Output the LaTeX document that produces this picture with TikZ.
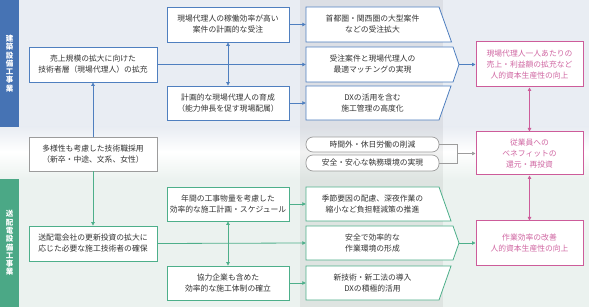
\documentclass[tikz,border=0pt]{standalone}
\usepackage{fontspec}
\setmainfont{Noto Sans CJK JP}
\usepackage{xcolor}
\usepackage{tikz}
\usetikzlibrary{positioning, arrows.meta, calc}
\definecolor{kenblue}{HTML}{4F7FBF}
\definecolor{bandblue}{HTML}{4673B4}
\definecolor{haigreen}{HTML}{4DAF8A}
\definecolor{bandgreen}{HTML}{4BA886}
\definecolor{jinpink}{HTML}{CD5C9A}
\definecolor{pinktext}{HTML}{D066A2}
\definecolor{linegray}{HTML}{9C9C9C}
\definecolor{textgray}{HTML}{333333}
\definecolor{bgblue}{HTML}{E9EDF3}
\definecolor{bggreen}{HTML}{EBF2EF}

\tikzset{
  txt/.style={font=\fontsize{7.8}{11}\selectfont, text=textgray, align=center, inner sep=0pt},
  box/.style={txt, draw, fill=white, line width=0.8pt, minimum width=122pt, minimum height=35pt},
  bluebox/.style={box, draw=kenblue},
  greenbox/.style={box, draw=haigreen},
  graybox/.style={box, draw=linegray},
  pinkbox/.style={box, draw=jinpink, line width=1pt, text=pinktext, minimum width=107pt},
  chevtxt/.style={txt, minimum width=133pt, minimum height=34pt},
  pill/.style={txt, draw=linegray, fill=white, line width=0.7pt, rounded corners=7pt,
               minimum width=133pt, minimum height=15pt},
  bandtxt/.style={font=\fontsize{7.5}{8.3}\selectfont\bfseries, text=white, align=center, inner sep=0pt},
  tip/.style={-{Triangle[length=3.5pt,width=3.5pt]}},
  twotip/.style={{Triangle[length=3.5pt,width=3.5pt]}-{Triangle[length=3.5pt,width=3.5pt]}},
}

\begin{document}
\begin{tikzpicture}[x=1pt, y=-1pt]
  \useasboundingbox (0,0) rectangle (589,307);
  % background
  \fill[bgblue] (0,0) rectangle (589,127);
  \shade[top color=bgblue, bottom color=white] (0,127) rectangle (589,152);
  \shade[top color=white, bottom color=bggreen] (0,152) rectangle (589,180);
  \fill[bggreen] (0,180) rectangle (589,307);
  \fill[black, opacity=0.055] (300,0) rectangle (443,307);

  % left bands
  \fill[bandblue] (0,0) rectangle (19,127);
  \fill[bandgreen] (0,179) rectangle (19,307);
  \node[bandtxt] (kenband) at (9.5,63.5) {建\\築\\設\\備\\工\\事\\業};
  \node[bandtxt] (haiband) at (9.5,243) {送\\配\\電\\設\\備\\工\\事\\業};

  % left column
  \node[bluebox, minimum width=128pt] (kakujyu) at (93,64.5)
    {売上規模の拡大に向けた\\技術者層（現場代理人）の拡充};
  \node[graybox, minimum width=128pt, minimum height=34pt] (saiyo) at (93,154)
    {多様性も考慮した技術職採用\\（新卒・中途、文系、女性）};
  \node[greenbox, minimum width=128pt] (kakuho) at (93,243.5)
    {送配電会社の更新投資の拡大に\\応じた必要な施工技術者の確保};

  % middle column
  \node[bluebox] (jyuchu) at (228,24.5) {現場代理人の稼働効率が高い\\案件の計画的な受注};
  \node[bluebox, minimum height=34pt] (ikusei) at (228,103) {計画的な現場代理人の育成\\（能力伸長を促す現場配属）};
  \node[greenbox, minimum height=34pt] (keikaku) at (228,204) {年間の工事物量を考慮した\\効率的な施工計画・スケジュール};
  \node[greenbox, minimum height=34pt] (taisei) at (228,283) {協力企業も含めた\\効率的な施工体制の確立};

  % chevron outlines
  \filldraw[kenblue, fill=white, line width=0.8pt] (306,7) -- (439,7) -- (451.5,42) -- (306,42) -- cycle;
  \filldraw[kenblue, fill=white, line width=0.8pt] (306,47) -- (453,47) -- (459,64.5) -- (453,82) -- (306,82) -- cycle;
  \filldraw[kenblue, fill=white, line width=0.8pt] (306,86) -- (451,86) -- (439,120) -- (306,120) -- cycle;
  \filldraw[haigreen, fill=white, line width=0.8pt] (306,187) -- (439,187) -- (451,221) -- (306,221) -- cycle;
  \filldraw[haigreen, fill=white, line width=0.8pt] (306,226) -- (453,226) -- (459,243) -- (453,260) -- (306,260) -- cycle;
  \filldraw[haigreen, fill=white, line width=0.8pt] (306,266) -- (451,266) -- (439,300) -- (306,300) -- cycle;
  \coordinate (kentip) at (459,64.5);
  \coordinate (haitip) at (459,243);

  \node[chevtxt] (kakudai) at (372.5,24.5) {首都圏・関西圏の大型案件\\などの受注拡大};
  \node[chevtxt] (matching) at (372.5,64.5) {受注案件と現場代理人の\\最適マッチングの実現};
  \node[chevtxt] (dxkanri) at (372.5,103) {DXの活用を含む\\施工管理の高度化};
  \node[chevtxt] (keigen) at (372.5,204) {季節要因の配慮、深夜作業の\\縮小など負担軽減策の推進};
  \node[chevtxt] (kankyo) at (372.5,243) {安全で効率的な\\作業環境の形成};
  \node[chevtxt] (shingijutsu) at (372.5,283) {新技術・新工法の導入\\DXの積極的活用};

  % pills
  \node[pill] (sakugen) at (372.5,144.5) {時間外・休日労働の削減};
  \node[pill, minimum height=16pt] (anzen) at (372.5,163) {安全・安心な執務環境の実現};
  \coordinate (brk) at (457,153.5);

  % right column
  \node[pinkbox, minimum height=45pt] (seisan) at (529.5,64.5)
    {\fontsize{7.8}{10.5}\selectfont 現場代理人一人あたりの\\売上・利益額の拡充など\\人的資本生産性の向上};
  \node[pinkbox, minimum height=43pt] (kangen) at (529.5,153.5)
    {\fontsize{7.8}{10.5}\selectfont 従業員への\\ベネフィットの\\還元・再投資};
  \node[pinkbox, minimum height=44pt] (kaizen) at (529.5,243)
    {作業効率の改善\\人的資本生産性の向上};

  % connectors
  \draw[kenblue, line width=0.8pt, tip] (saiyo) -- (kakujyu);
  \draw[haigreen, line width=0.8pt, tip] (saiyo) -- (kakuho);
  \draw[kenblue, line width=0.8pt, twotip] (jyuchu) -- (ikusei);
  \draw[haigreen, line width=0.8pt, twotip] (keikaku) -- (taisei);
  \draw[kenblue, line width=0.8pt, tip] (kakujyu.east) -- (matching.west);
  \draw[kenblue, line width=0.8pt, tip] (jyuchu.east) -- (kakudai.west);
  \draw[kenblue, line width=0.8pt, tip] (ikusei.east) -- (dxkanri.west);
  \draw[haigreen, line width=0.8pt, tip] (kakuho.east) -- (kankyo.west);
  \draw[haigreen, line width=0.8pt, tip] (keikaku.east) -- (keigen.west);
  \draw[haigreen, line width=0.8pt, tip] (taisei.east) -- (shingijutsu.west);
  \draw[kenblue, line width=0.8pt, tip] (kentip) -- (seisan.west);
  \draw[haigreen, line width=0.8pt, tip] (haitip) -- (kaizen.west);
  \draw[linegray, line width=0.7pt] (sakugen.east) -| (brk);
  \draw[linegray, line width=0.7pt] (anzen.east) -| (brk);
  \draw[linegray, line width=0.7pt, tip] (brk) -- (kangen.west);
  \draw[jinpink, line width=1pt, twotip] (seisan) -- (kangen);
  \draw[jinpink, line width=1pt, twotip] (kangen) -- (kaizen);
\end{tikzpicture}
\end{document}
